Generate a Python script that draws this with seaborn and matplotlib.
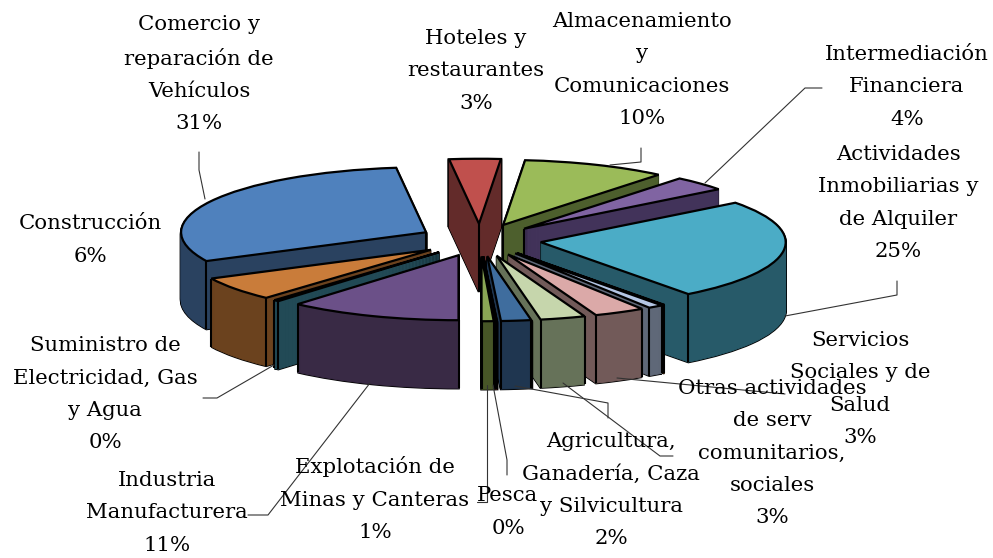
import matplotlib
matplotlib.use("Agg")
import matplotlib.pyplot as plt
import seaborn as sns
from matplotlib.lines import Line2D
import numpy as np

# Slices clockwise from straight down
names = ["Industria Manufacturera", "Suministro", "Construccion", "Comercio", "Hoteles",
         "Almacenamiento", "Intermediacion", "Actividades", "Sin etiqueta 1", "Sin etiqueta 2",
         "Servicios", "Otras", "Agricultura", "Pesca", "Explotacion"]
values = [11.5, 0.35, 6, 30.6, 3.4, 9.6, 3.7, 25.3, 0.08, 1, 3.4, 3, 2, 0.1, 0.8]
top_colors = ["#6b5088", "#2f7a8c", "#c97c3a", "#4f81bd", "#c0504d", "#9bbb59", "#8064a2", "#4bacc6",
              "#b65708", "#b4c6e4", "#dba9a8", "#c6d6ac", "#3f6d9e", "#9c3e3b", "#8aa655"]
side_colors = ["#392a45", "#224a56", "#6b421e", "#2a4260", "#632b2a", "#4d5f2d", "#42335a", "#275a69",
               "#5c2c04", "#5f6878", "#725a59", "#667259", "#1f3650", "#4f1f1e", "#475527"]

labels = [
    ("Comercio y\nreparación de\nVehículos\n31%", 199, 74),
    ("Hoteles y\nrestaurantes\n3%", 476, 71),
    ("Almacenamiento\ny\nComunicaciones\n10%", 642, 70),
    ("Intermediación\nFinanciera\n4%", 907, 87),
    ("Actividades\nInmobiliarias y\nde Alquiler\n25%", 898, 203),
    ("Construcción\n6%", 90, 240),
    ("Servicios\nSociales y de\nSalud\n3%", 860, 389),
    ("Otras actividades\nde serv\ncomunitarios,\nsociales\n3%", 772, 453),
    ("Agricultura,\nGanadería, Caza\ny Silvicultura\n2%", 611, 490),
    ("Pesca\n0%", 508, 512),
    ("Explotación de\nMinas y Canteras\n1%", 375, 499),
    ("Industria\nManufacturera\n11%", 167, 513),
    ("Suministro de\nElectricidad, Gas\ny Agua\n0%", 105, 394),
]
leaders = [
    [(199, 152), (199, 170), (205, 199)],
    [(641, 148), (641, 162), (610, 165)],
    [(822, 88), (805, 88), (705, 183)],
    [(897, 281), (897, 295), (785, 316)],
    [(617, 378), (785, 394)],
    [(563, 383), (660, 456), (673, 456)],
    [(515, 386), (608, 403), (608, 418)],
    [(493, 385), (507, 460), (507, 475)],
    [(487, 385), (487, 502), (477, 502)],
    [(370, 383), (268, 515), (248, 515)],
    [(274, 365), (217, 398), (203, 398)],
]

W, H = 993, 558
CX, CY, RX, RY = 480, 240, 245, 65
DEPTH, STEP = 68, 1

sns.set_theme(style="white")
fig = plt.figure(figsize=(W / 100, H / 100), dpi=100)
ax = fig.add_axes([0, 0, 1, 1])
explode = [0.25] * len(values)


def layer(dy, colors, edges, lw):
    wedges, _ = ax.pie(values, explode=explode, colors=colors, startangle=270, counterclock=False,
                       center=(0, dy), radius=1, frame=False)
    for w, e in zip(wedges, edges):
        w.set_edgecolor(e)
        w.set_linewidth(lw)
    return wedges


# back slices are drawn first: rank by height of slice middle
mid = []
ang = 270.0
tot = sum(values)
for v in values:
    d = 360 * v / tot
    mid.append(ang - d / 2)
    ang -= d
rank = np.argsort(np.argsort(-np.sin(np.radians(mid))))

dz = DEPTH / RY
offsets = -np.arange(DEPTH // STEP, 0, -1) * STEP / RY
blacks = ["black"] * len(values)
for off in offsets:
    for w, r in zip(layer(off, blacks, blacks, 1.8), rank):
        w.set_zorder(r * 10 + 1)
for off in offsets:
    for w, r in zip(layer(off, side_colors, side_colors, 0.6), rank):
        w.set_zorder(r * 10 + 2)

for w, r, m in zip(layer(0, top_colors, blacks, 1.6), rank, mid):
    w.set_zorder(r * 10 + 4)
    # vertical edges where the visible side walls meet
    cx, cy = w.center
    pts = []
    if np.sin(np.radians(m)) > 0:
        pts.append((cx, cy))
    for a in (w.theta1, w.theta2):
        if np.sin(np.radians(a)) < 0:
            pts.append((cx + np.cos(np.radians(a)), cy + np.sin(np.radians(a))))
    for (x, y) in pts:
        ax.plot([x, x], [y, y - dz], color="black", lw=1.5, zorder=r * 10 + 3, solid_capstyle="butt")

ax.set_aspect("auto")
ax.set_xlim((0 - CX) / RX, (W - CX) / RX)
ax.set_ylim((CY - H) / RY, CY / RY)
ax.axis("off")

for pts in leaders:
    xs, ys = zip(*pts)
    fig.add_artist(Line2D([x / W for x in xs], [1 - y / H for y in ys], color="#333333", lw=0.8))

for txt, x, y in labels:
    fig.text(x / W, 1 - y / H, txt, ha="center", va="center", family="DejaVu Serif",
             fontsize=15.3, linespacing=1.87, color="black", zorder=50)

fig.savefig("out.png", dpi=100, facecolor="white")
